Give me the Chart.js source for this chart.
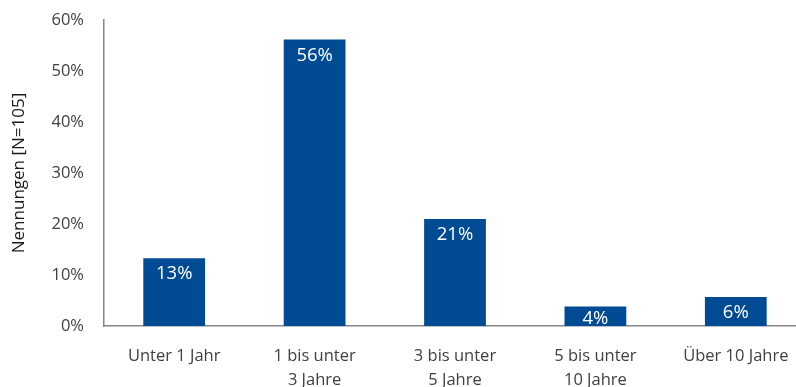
<!DOCTYPE html>
<html>
<head>
<meta charset="utf-8">
<script src="https://cdn.jsdelivr.net/npm/chart.js@4/dist/chart.umd.min.js"></script>
<style>
  html, body { margin: 0; padding: 0; background: #fff; overflow: hidden; }
  #wrap { width: 810px; height: 387px; }
</style>
</head>
<body>
<div id="wrap"><canvas id="chart" width="810" height="387"></canvas></div>
<script>
// Dauer-Kategorien und Anteile (N=105)
const categories = [
    ['Unter 1 Jahr'],
    ['1 bis unter', '3 Jahre'],
    ['3 bis unter', '5 Jahre'],
    ['5 bis unter', '10 Jahre'],
    ['Über 10 Jahre']
];
const shares = [13.3, 56.2, 21.0, 3.8, 5.7];
const yTicks = [0, 10, 20, 30, 40, 50, 60];

const FONT = '"Open Sans", "Noto Sans", sans-serif';
const BLUE = '#004b93';

// white value labels inside the bar tops
const barLabels = {
    id: 'barLabels',
    afterDatasetsDraw(chart) {
        const ctx = chart.ctx;
        const meta = chart.getDatasetMeta(0);
        ctx.save();
        ctx.fillStyle = '#ffffff';
        ctx.font = '18.5px ' + FONT;
        ctx.textAlign = 'center';
        ctx.textBaseline = 'middle';
        meta.data.forEach((bar, i) => {
            const top = bar.y, bottom = bar.base;
            const y = Math.min(top + 16, (top + bottom) / 2 + 2);
            ctx.fillText(Math.round(shares[i]) + '%', bar.x, y);
        });
        ctx.restore();
    }
};

new Chart(document.getElementById('chart'), {
    type: 'bar',
    data: {
        labels: categories,
        datasets: [{
            data: shares,
            backgroundColor: BLUE,
            borderWidth: 0,
            categoryPercentage: 1,
            barPercentage: 0.44
        }]
    },
    options: {
        responsive: false,
        animation: false,
        layout: { padding: { top: 20, right: 4, left: 0, bottom: 0 } },
        plugins: { legend: { display: false }, tooltip: { enabled: false } },
        scales: {
            x: {
                grid: { display: false, drawTicks: false },
                border: { display: true, color: '#868686', width: 1.5 },
                ticks: {
                    color: '#404040',
                    font: { family: FONT, size: 16.5, lineHeight: 1.42 },
                    padding: 19,
                    maxRotation: 0,
                    autoSkip: false
                },
                afterFit(scale) { scale.height = 61; }
            },
            y: {
                min: 0,
                max: 60,
                afterBuildTicks(scale) { scale.ticks = yTicks.map(v => ({ value: v })); },
                // invisible tick marks give the label gap without extra top padding
                grid: { display: false, drawTicks: true, tickLength: 20, tickColor: 'rgba(0,0,0,0)' },
                border: { display: true, color: '#868686', width: 1.5 },
                ticks: {
                    color: '#404040',
                    font: { family: FONT, size: 16.5 },
                    padding: 0,
                    callback: v => v + '%'
                },
                title: {
                    display: true,
                    text: 'Nennungen [N=105]',
                    color: '#1a1a1a',
                    font: { family: FONT, size: 17 },
                    padding: { top: 9, bottom: 0 }
                },
                afterFit(scale) { scale.width = 104; }
            }
        }
    },
    plugins: [barLabels]
});
</script>
</body>
</html>
